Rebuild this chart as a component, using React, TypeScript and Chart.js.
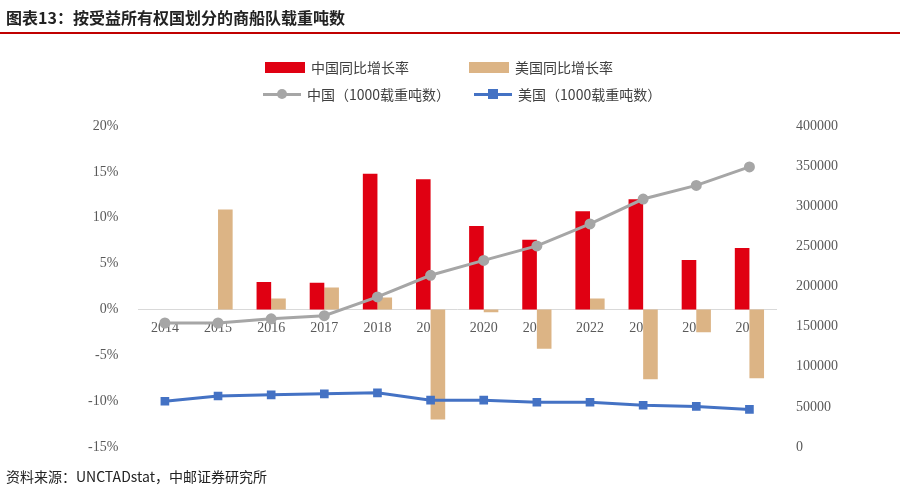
import React, { useEffect, useRef } from "react";
import { Chart, registerables } from "chart.js";
Chart.register(...registerables);

const years = ["2014","2015","2016","2017","2018","2019","2020","2021","2022","2023","2024","2025"];
const chinaGrowth = [0, 0, 3.0, 2.9, 14.8, 14.2, 9.1, 7.6, 10.7, 12.0, 5.4, 6.7];
const usGrowth = [0, 10.9, 1.2, 2.4, 1.3, -12.0, -0.3, -4.3, 1.2, -7.6, -2.5, -7.5];
const chinaDwt = [154500, 154500, 159700, 163600, 187000, 214000, 232500, 250600, 278000, 309000, 326000, 349000];
const usDwt = [57000, 63600, 65000, 66200, 67500, 58400, 58400, 55800, 55800, 52000, 50600, 46800];

const font = { family: "'Noto Sans CJK SC', 'DejaVu Sans', sans-serif", size: 13 };
const tickFont = { family: "'Liberation Serif', serif", size: 14 };

export default function App() {
  const ref = useRef<HTMLCanvasElement>(null);
  useEffect(() => {
    document.body.style.margin = "0";
    const chart = new Chart(ref.current!, {
      type: "bar",
      data: {
        labels: years,
        datasets: [
          { type: "bar", label: "中国同比增长率", data: chinaGrowth, backgroundColor: "#e00012", yAxisID: "y", order: 2, categoryPercentage: 0.55, barPercentage: 1 },
          { type: "bar", label: "美国同比增长率", data: usGrowth, backgroundColor: "#dcb485", yAxisID: "y", order: 2, categoryPercentage: 0.55, barPercentage: 1 },
          { type: "line", label: "中国（1000载重吨数）", data: chinaDwt, borderColor: "#a6a6a6", backgroundColor: "#a6a6a6", borderWidth: 3, pointRadius: 4, pointStyle: "circle", yAxisID: "y1", order: 0 },
          { type: "line", label: "美国（1000载重吨数）", data: usDwt, borderColor: "#4472c4", backgroundColor: "#4472c4", borderWidth: 3, pointRadius: 4, pointStyle: "rect", yAxisID: "y1", order: 0 },
        ] as any,
      },
      options: {
        animation: false,
        responsive: false,
        layout: { padding: { left: 76, right: 50, top: 126, bottom: 51 } },
        plugins: { legend: { display: false }, tooltip: { enabled: false } },
        scales: {
          x: {
            position: { y: 0 } as any,
            z: 1,
            grid: { display: false },
            border: { display: true, color: "#d9d9d9" },
            ticks: { color: "#595959", font: tickFont, padding: 2 },
          },
          y: {
            position: "left", min: -15, max: 20,
            grid: { display: false }, border: { display: false },
            ticks: { stepSize: 5, color: "#595959", font: tickFont, callback: (v: any) => v + "%", padding: 12 },
          },
          y1: {
            position: "right", min: 0, max: 400000,
            grid: { display: false }, border: { display: false },
            ticks: { stepSize: 50000, color: "#595959", font: tickFont, callback: (v: any) => String(v), padding: 12 },
          },
        },
      },
    });
    return () => chart.destroy();
  }, []);

  const legendItem = (label: string, mark: React.ReactNode) => (
    <span style={{ display: "inline-flex", alignItems: "center", gap: 6 }}>{mark}<span>{label}</span></span>
  );
  const lineMark = (color: string, round: boolean) => (
    <span style={{ position: "relative", width: 38, height: 3, background: color, display: "inline-block" }}>
      <span style={{ position: "absolute", left: 14, top: -4, width: 10, height: 10, background: color, borderRadius: round ? 5 : 0 }} />
    </span>
  );

  return (
    <div style={{ position: "relative", width: 900, height: 498, fontFamily: font.family, color: "#404040" }}>
      <canvas ref={ref} width={900} height={498} style={{ position: "absolute", left: 0, top: 0 }} />
      <div style={{ position: "absolute", left: 6, top: 5, fontSize: 16, fontWeight: "bold", color: "#222" }}>图表13：按受益所有权国划分的商船队载重吨数</div>
      <div style={{ position: "absolute", left: 0, top: 32, width: 900, height: 2, background: "#c00000" }} />
      <div style={{ position: "absolute", left: 265, top: 57, fontSize: 14, display: "flex", gap: 60 }}>
        {legendItem("中国同比增长率", <span style={{ width: 40, height: 11, background: "#e00012", display: "inline-block" }} />)}
        {legendItem("美国同比增长率", <span style={{ width: 40, height: 11, background: "#dcb485", display: "inline-block" }} />)}
      </div>
      <div style={{ position: "absolute", left: 263, top: 84, fontSize: 14, display: "flex", gap: 24 }}>
        {legendItem("中国（1000载重吨数）", lineMark("#a6a6a6", true))}
        {legendItem("美国（1000载重吨数）", lineMark("#4472c4", false))}
      </div>
      <div style={{ position: "absolute", left: 6, top: 466, fontSize: 14, color: "#222" }}>资料来源：UNCTADstat，中邮证券研究所</div>
    </div>
  );
}
